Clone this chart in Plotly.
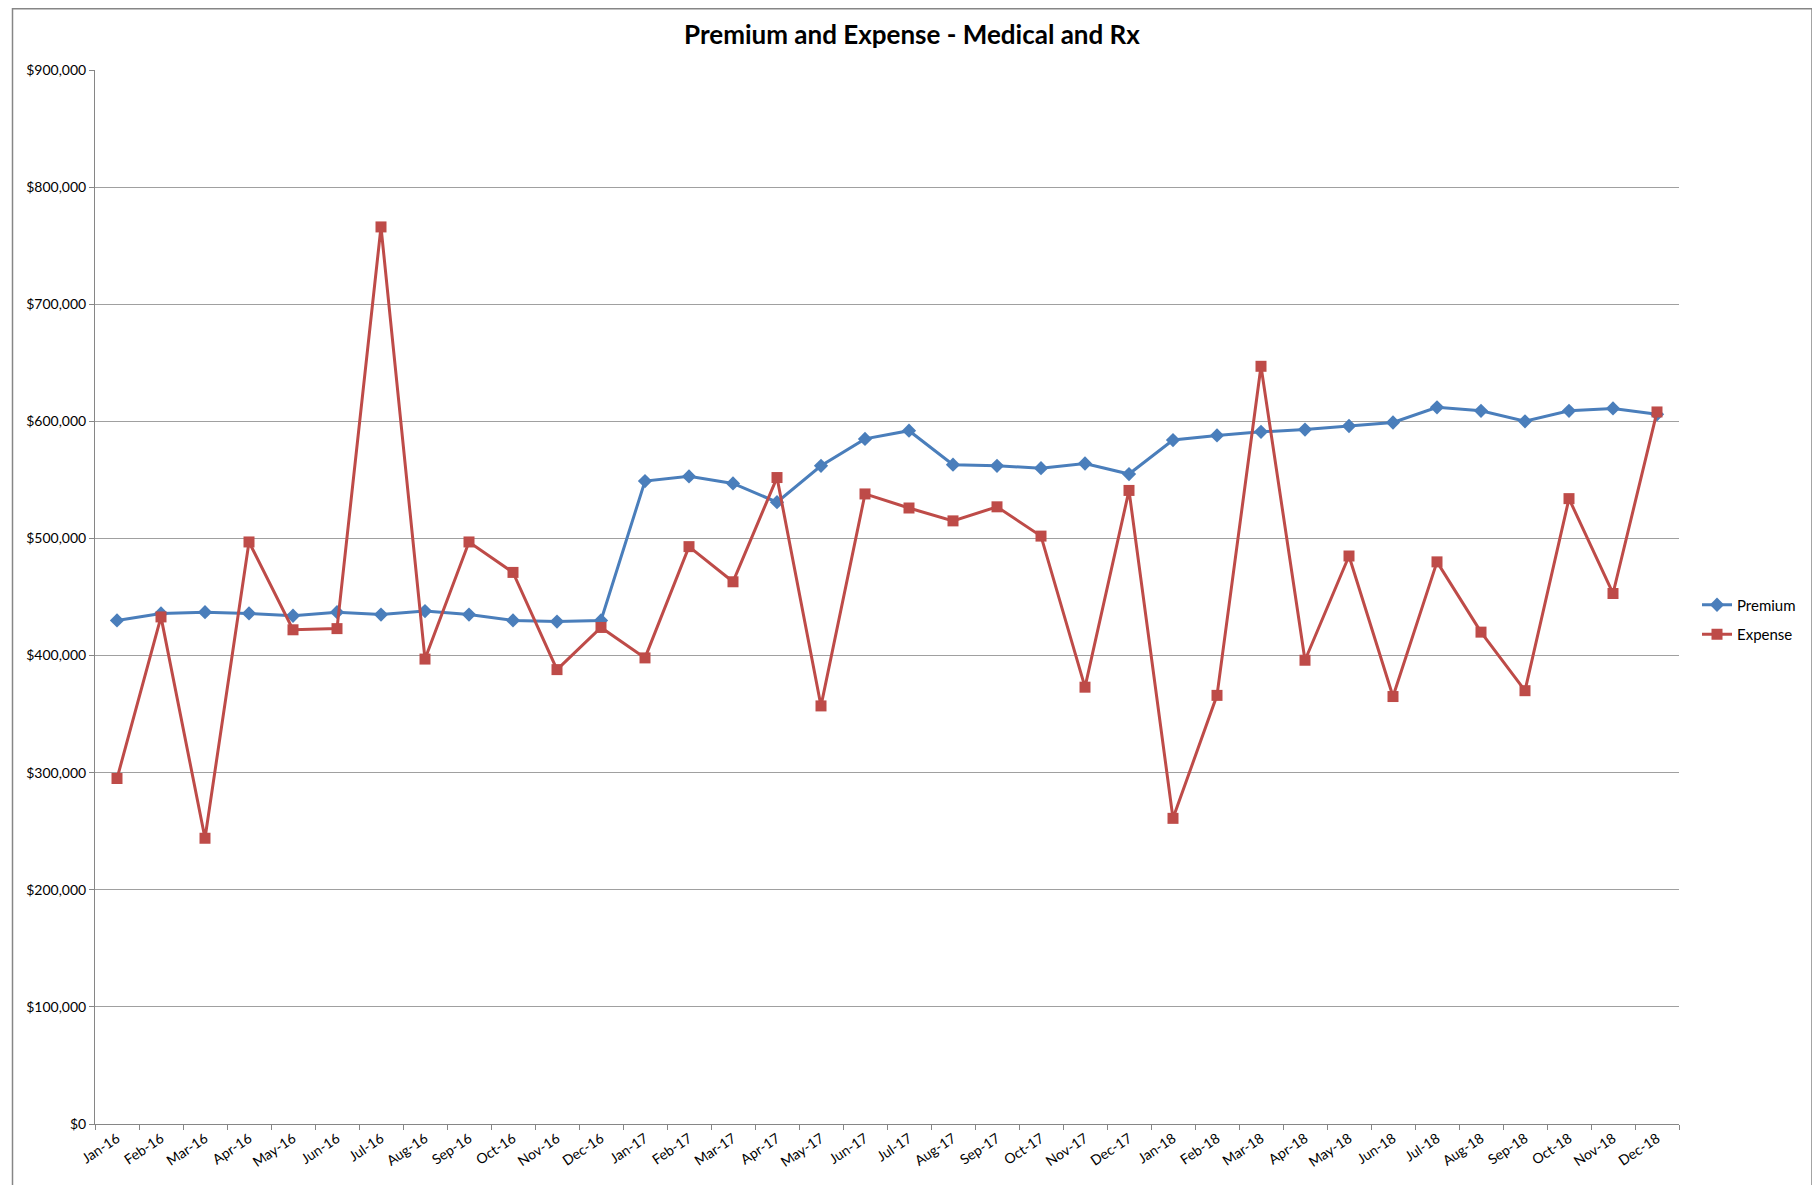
import plotly.graph_objects as go

months = ["Jan-16","Feb-16","Mar-16","Apr-16","May-16","Jun-16","Jul-16","Aug-16","Sep-16","Oct-16","Nov-16","Dec-16",
          "Jan-17","Feb-17","Mar-17","Apr-17","May-17","Jun-17","Jul-17","Aug-17","Sep-17","Oct-17","Nov-17","Dec-17",
          "Jan-18","Feb-18","Mar-18","Apr-18","May-18","Jun-18","Jul-18","Aug-18","Sep-18","Oct-18","Nov-18","Dec-18"]

premium = [430000, 436000, 437000, 436000, 434000, 437000, 435000, 438000, 435000, 430000, 429000, 430000,
           549000, 553000, 547000, 531000, 562000, 585000, 592000, 563000, 562000, 560000, 564000, 555000,
           584000, 588000, 591000, 593000, 596000, 599000, 612000, 609000, 600000, 609000, 611000, 606000]

expense = [295000, 433000, 244000, 497000, 422000, 423000, 766000, 397000, 497000, 471000, 388000, 424000,
           398000, 493000, 463000, 552000, 357000, 538000, 526000, 515000, 527000, 502000, 373000, 541000,
           261000, 366000, 647000, 396000, 485000, 365000, 480000, 420000, 370000, 534000, 453000, 608000]

y_ticks = [0, 100000, 200000, 300000, 400000, 500000, 600000, 700000, 800000, 900000]
y_tick_labels = ["$0", "$100,000", "$200,000", "$300,000", "$400,000", "$500,000",
                 "$600,000", "$700,000", "$800,000", "$900,000"]

BLUE = "#4A7EBB"
RED = "#BE4B48"
GRID = "#A0A0A0"
AXIS = "#868686"
FONT = "Lato, 'Open Sans', sans-serif"

# page body has an 8px margin; figure coordinates below are offset accordingly
W, H = 1812, 1177
L, R, T, B = 87, 141, 62, 61
PW, PH = W - L - R, H - T - B

fig = go.Figure()
fig.add_trace(go.Scatter(x=months, y=premium, name="Premium", mode="lines+markers", legendgroup="p",
                         line=dict(color=BLUE, width=3),
                         marker=dict(symbol="diamond", size=11, color=BLUE)))
fig.add_trace(go.Scatter(x=months, y=expense, name="Expense", mode="lines+markers", legendgroup="e",
                         line=dict(color=RED, width=3),
                         marker=dict(symbol="square", size=11, color=RED)))

fig.update_layout(
    width=W, height=H,
    paper_bgcolor="white", plot_bgcolor="white",
    margin=dict(l=L, r=R, t=T, b=B, autoexpand=False),
    font=dict(family=FONT, color="#000000", size=14),
    title=dict(text="<b>Premium and Expense - Medical and Rx</b>", x=904 / W, xanchor="center",
               y=1 - 27 / H, yanchor="middle", font=dict(family=FONT, size=26, color="#000000")),
    showlegend=True,
    legend=dict(x=(1689 - L) / PW, y=(1116 - 611.5) / PH,
                xanchor="left", yanchor="middle", font=dict(family=FONT, size=15),
                bgcolor="rgba(0,0,0,0)", tracegroupgap=7, itemwidth=30, traceorder="grouped"),
    xaxis=dict(type="category", tickangle=-34, showgrid=False, showline=True, linecolor=AXIS,
               linewidth=1, ticks="outside", tickson="boundaries", ticklen=5, tickcolor=AXIS,
               tickfont=dict(family=FONT, size=14), range=[-0.5, 35.5], fixedrange=True),
    yaxis=dict(range=[0, 900000], tickvals=y_ticks, ticktext=y_tick_labels, showgrid=True,
               gridcolor=GRID, gridwidth=1, showline=True, linecolor=AXIS, linewidth=1,
               ticks="outside", ticklen=5, tickcolor=AXIS, zeroline=False,
               tickfont=dict(family=FONT, size=14)),
    shapes=[dict(type="rect", xref="paper", yref="paper",
                 x0=(4.5 - L) / PW, x1=(1804 - L) / PW,
                 y0=-0.2, y1=(1116 - 0.8) / PH,
                 line=dict(color=AXIS, width=1.5), layer="below")],
)

fig.write_html("out.html")
